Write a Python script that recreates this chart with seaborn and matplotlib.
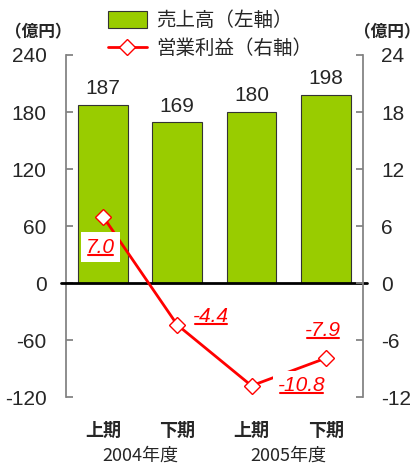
import numpy as np
import pandas as pd
import seaborn as sns
import matplotlib.pyplot as plt
from matplotlib.lines import Line2D
from matplotlib.patches import Patch

# data
periods = ['上期', '下期', '上期', '下期']
years = ['2004年度', '2005年度']
sales = [187, 169, 180, 198]          # 売上高 (left axis)
profit = [7.0, -4.4, -10.8, -7.9]     # 営業利益 (right axis)
left_ticks = [-120, -60, 0, 60, 120, 180, 240]
right_ticks = [-12, -6, 0, 6, 12, 18, 24]

sns.set_theme(style='white')
plt.rcParams['font.family'] = ['Noto Sans CJK JP', 'DejaVu Sans']
plt.rcParams['axes.unicode_minus'] = False
num_font = ['Liberation Sans Narrow', 'Liberation Sans', 'DejaVu Sans']

df = pd.DataFrame({'idx': range(4), 'sales': sales, 'profit': profit})

fig = plt.figure(figsize=(4.2, 4.7), dpi=100)
ax = fig.add_axes([0.157, 0.155, 0.707, 0.728])

sns.barplot(data=df, x='idx', y='sales', color='#99CC00', saturation=1,
            width=0.67, edgecolor='#333333', linewidth=0.8, ax=ax, zorder=2)
for i, v in enumerate(sales):
    ax.annotate(str(v), (i, v), xytext=(0, 5), textcoords='offset points',
                ha='center', va='bottom', fontsize=15, family=num_font)

ax.set_ylim(-120, 240)
ax.set_xlim(-0.5, 3.5)
ax.set_yticks(left_ticks)
ax.set_xlabel('')
ax.set_ylabel('')
ax.set_xticks(range(4))
ax.set_xticklabels(periods, fontsize=13, fontweight='bold')
ax.tick_params(axis='x', length=0, pad=17)
ax.tick_params(axis='y', direction='in', length=5, color='#808080',
               labelsize=15, pad=14)
for lab in ax.get_yticklabels():
    lab.set_family(num_font)
for s in ['top', 'bottom', 'right']:
    ax.spines[s].set_visible(False)
ax.spines['left'].set_color('#808080')
ax.axhline(0, xmin=-0.015, xmax=1.015, color='black', lw=2, clip_on=False, zorder=3)

for j, yr in enumerate(years):
    ax.text(2 * j + 0.5, -0.17, yr, transform=ax.get_xaxis_transform(),
            ha='center', va='center', fontsize=13)

ax2 = ax.twinx()
sns.lineplot(data=df, x='idx', y='profit', color='red', lw=2, marker='D',
             markersize=8, markerfacecolor='white', markeredgecolor='red',
             markeredgewidth=1, ax=ax2, zorder=4)
ax2.set_ylim(-12, 24)
ax2.set_yticks(right_ticks)
ax2.set_ylabel('')
ax2.set_xlabel('')
ax2.tick_params(axis='y', direction='in', length=5, color='#808080',
                labelsize=15, pad=13)
for lab in ax2.get_yticklabels():
    lab.set_family(num_font)
for s in ['top', 'bottom', 'left']:
    ax2.spines[s].set_visible(False)
ax2.spines['right'].set_color('#808080')
ax2.set_xlim(-0.5, 3.5)

offsets = [(-2, -22), (24, 6), (36, 0), (-2, 20)]
labels = []
for i, (v, off) in enumerate(zip(profit, offsets)):
    t = ax2.annotate(f'{v:.1f}', (i, v), xytext=off, textcoords='offset points',
                     ha='center', va='center', fontsize=15, style='italic',
                     family=num_font, color='red', zorder=5,
                     bbox=dict(boxstyle='square,pad=0.25', fc='white', ec='none'))
    labels.append(t)

fig.text(0.09, 0.932, '（億円）', ha='center', va='center', fontsize=12, fontweight='bold')
fig.text(0.922, 0.932, '（億円）', ha='center', va='center', fontsize=12, fontweight='bold')

handles = [Patch(facecolor='#99CC00', edgecolor='#333333', linewidth=0.8),
           Line2D([0], [0], color='red', lw=2, marker='D', markersize=8,
                  markerfacecolor='white', markeredgecolor='red')]
fig.legend(handles, ['売上高（左軸）', '営業利益（右軸）'], loc='upper center',
           bbox_to_anchor=(0.5, 1.015), frameon=False, fontsize=14,
           handlelength=2.0, handleheight=1.0, handletextpad=0.5,
           labelspacing=0.35)

# underline the profit labels
fig.canvas.draw()
r = fig.canvas.get_renderer()
for t in labels:
    bb = t.get_window_extent(r)
    y = bb.y0 + 2
    fig.add_artist(Line2D([(bb.x0 + 2) / fig.bbox.width, (bb.x1 - 2) / fig.bbox.width],
                          [y / fig.bbox.height, y / fig.bbox.height],
                          color='red', lw=1.5))

fig.savefig('out.png', dpi=100)
